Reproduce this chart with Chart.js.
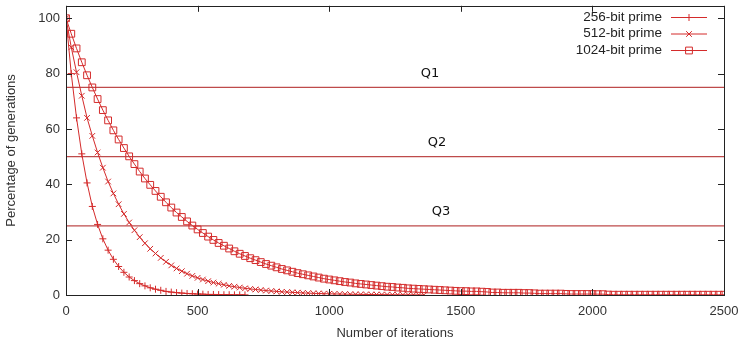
<!DOCTYPE html>
<html>
<head>
<meta charset="utf-8">
<title>Prime generation</title>
<script src="https://cdn.jsdelivr.net/npm/chart.js@4.4.0/dist/chart.umd.min.js"></script>
<style>
body{margin:0;background:#fff}
#wrap{width:740px;height:347px;position:relative}
</style>
</head>
<body>
<div id="wrap"><canvas id="primeChart"></canvas></div>
<script>
// one sample every 20 iterations
var iterStep = 20;
var seriesNames = ['256-bit prime', '512-bit prime', '1024-bit prime'];
var xTicks = [0, 500, 1000, 1500, 2000, 2500];
var yTicks = [0, 20, 40, 60, 80, 100];
var quartiles = [75, 50, 25];
var quartileNames = ['Q1', 'Q2', 'Q3'];
var quartileLabelX = [1383, 1410, 1425];

var prime256 = [100, 80, 64, 51, 40.5, 32, 25.5, 20.3, 16.2, 12.9, 10.3, 8.2, 6.5, 5.2, 4.1, 3.3, 2.6, 2.1, 1.7, 1.3,
	1.05, 0.85, 0.7, 0.55, 0.45, 0.35, 0.3, 0.2, 0.2, 0.15, 0.1, 0.1, 0.05, 0.05, 0.05];
var prime512 = [100, 89.5, 80.5, 72, 64, 57.5, 51.5, 46, 41, 36.7, 32.8, 29.3, 26.2, 23.4, 20.9, 18.7, 16.7, 15, 13.4, 12,
	10.7, 9.6, 8.6, 7.7, 6.9, 6.2, 5.6, 5, 4.5, 4.1, 3.7, 3.3, 3, 2.7, 2.4, 2.2, 2, 1.8, 1.6, 1.45,
	1.3, 1.15, 1.05, 0.95, 0.85, 0.75, 0.68, 0.6, 0.54, 0.48, 0.43, 0.38, 0.34, 0.3, 0.27, 0.24, 0.21, 0.19, 0.17, 0.15,
	0.13, 0.12, 0.1, 0.09, 0.08, 0.07, 0.06, 0.05, 0.05];
var prime1024 = [100, 94.4, 89.1, 84.1, 79.4, 75.0, 70.8, 66.8, 63.1, 59.5, 56.2, 53.1, 50.1, 47.3, 44.6, 42.1, 39.8, 37.6, 35.5, 33.5,
	31.6, 29.8, 28.2, 26.6, 25.1, 23.7, 22.4, 21.1, 19.9, 18.8, 17.8, 16.8, 15.8, 14.9, 14.1, 13.3, 12.6, 11.9, 11.2, 10.6,
	10.0, 9.4, 8.9, 8.4, 7.9, 7.5, 7.1, 6.7, 6.3, 5.9, 5.6, 5.3, 5.0, 4.7, 4.5, 4.2, 4.0, 3.8, 3.6, 3.4,
	3.2, 3.0, 2.9, 2.7, 2.6, 2.4, 2.3, 2.2, 2.1, 2.0, 1.9, 1.8, 1.7, 1.6, 1.5, 1.4, 1.4, 1.3, 1.3, 1.2,
	1.1, 0.9, 0.9, 0.8, 0.8, 0.8, 0.8, 0.7, 0.7, 0.6, 0.5, 0.5, 0.5, 0.5, 0.5, 0.4, 0.35, 0.35, 0.35, 0.35,
	0.35, 0.3, 0.3, 0.15, 0.1, 0.1, 0.1, 0.1, 0.1, 0.1, 0.1, 0.1, 0.1, 0.1, 0.1, 0.1, 0.1, 0.1, 0.1, 0.1,
	0.1, 0.1, 0.1, 0.1, 0.1, 0.1];

var curveColor = '#d42b2b';
var quartColor = 'rgb(190,75,75)';

function toPoints(arr) {
	return arr.map(function (v, i) {
		return {x: i * iterStep, y: v};
	});
}
function curve(label, data, style, radius) {
	return {
		label: label,
		data: toPoints(data),
		borderColor: curveColor,
		backgroundColor: 'rgba(0,0,0,0)',
		borderWidth: 1,
		pointStyle: style,
		pointRadius: radius,
		pointBorderWidth: 1,
		pointBorderColor: curveColor,
		pointBackgroundColor: 'rgba(0,0,0,0)',
		tension: 0
	};
}
var datasets = [
	curve(seriesNames[0], prime256, 'cross', 3.5),
	curve(seriesNames[1], prime512, 'crossRot', 4),
	curve(seriesNames[2], prime1024, 'rect', 4.8)
];
quartiles.forEach(function (q, i) {
	datasets.push({
		label: quartileNames[i],
		data: [{x: xTicks[0], y: q}, {x: xTicks[xTicks.length - 1], y: q}],
		borderColor: quartColor,
		borderWidth: 1.2,
		pointRadius: 0,
		isQuart: true
	});
});

// gnuplot style frame with inward ticks, Q labels, legend
var gnuFrame = {
	id: 'gnuFrame',
	afterDatasetsDraw: function (chart) {
		var ctx = chart.ctx, a = chart.chartArea;
		var xs = chart.scales.x, ys = chart.scales.y;
		ctx.save();
		ctx.strokeStyle = '#222';
		ctx.lineWidth = 1;
		ctx.strokeRect(Math.round(a.left) + 0.5, Math.round(a.top) + 0.5, Math.round(a.right - a.left), Math.round(a.bottom - a.top));
		ctx.beginPath();
		ys.ticks.forEach(function (t) {
			var y = Math.round(ys.getPixelForValue(t.value)) + 0.5;
			ctx.moveTo(a.left, y); ctx.lineTo(a.left + 6, y);
			ctx.moveTo(a.right, y); ctx.lineTo(a.right - 6, y);
		});
		xs.ticks.forEach(function (t) {
			var x = Math.round(xs.getPixelForValue(t.value)) + 0.5;
			ctx.moveTo(x, a.bottom); ctx.lineTo(x, a.bottom - 6);
			ctx.moveTo(x, a.top); ctx.lineTo(x, a.top + 6);
		});
		ctx.stroke();
		// quartile labels
		ctx.fillStyle = '#111';
		ctx.font = '13px "DejaVu Sans"';
		ctx.textAlign = 'center';
		ctx.textBaseline = 'middle';
		quartiles.forEach(function (q, i) {
			ctx.fillText(quartileNames[i], xs.getPixelForValue(quartileLabelX[i]), ys.getPixelForValue(q) - 14);
		});
		// legend
		ctx.font = '13.5px "Liberation Sans", Arial, sans-serif';
		ctx.textAlign = 'right';
		ctx.fillStyle = '#222';
		var rows = [17, 33.5, 50];
		chart.data.datasets.forEach(function (ds, i) {
			if (ds.isQuart) return;
			var y = rows[i];
			ctx.fillText(ds.label, 662, y);
			ctx.strokeStyle = curveColor;
			ctx.beginPath();
			ctx.moveTo(671, y + 0.5); ctx.lineTo(707, y + 0.5);
			ctx.stroke();
			ctx.fillStyle = 'rgba(0,0,0,0)';
			Chart.helpers.drawPoint(ctx, {pointStyle: ds.pointStyle, radius: ds.pointRadius, borderWidth: 1, rotation: 0}, 689, y + 0.5);
			ctx.fillStyle = '#222';
		});
		ctx.restore();
	}
};

function noPad(scale) {
	scale.paddingTop = 0;
	scale.paddingBottom = 0;
	scale.paddingLeft = 0;
	scale.paddingRight = 0;
}

Chart.defaults.font.family = '"Liberation Sans", Arial, sans-serif';
Chart.defaults.font.size = 13;
Chart.defaults.color = '#333';

new Chart(document.getElementById('primeChart'), {
	type: 'line',
	data: {datasets: datasets},
	options: {
		responsive: true,
		maintainAspectRatio: false,
		animation: false,
		layout: {padding: {top: 4, right: 16, bottom: 0, left: 0}},
		plugins: {
			legend: {display: false},
			tooltip: {enabled: false}
		},
		scales: {
			x: {
				type: 'linear',
				min: xTicks[0],
				max: xTicks[xTicks.length - 1],
				afterBuildTicks: function (scale) {
					scale.ticks = xTicks.map(function (v) { return {value: v}; });
				},
				afterFit: function (scale) { scale.height = 52; noPad(scale); },
				grid: {display: false, drawTicks: false},
				border: {display: false},
				ticks: {padding: 9, maxRotation: 0, color: '#333', callback: function (v) { return String(v); }},
				title: {display: true, text: 'Number of iterations', color: '#333', padding: {top: 0, bottom: 6}}
			},
			y: {
				type: 'linear',
				min: 0,
				max: 104.5,
				afterBuildTicks: function (scale) {
					scale.ticks = yTicks.map(function (v) { return {value: v}; });
				},
				afterFit: function (scale) { scale.width = 66; noPad(scale); },
				grid: {display: false, drawTicks: false},
				border: {display: false},
				ticks: {padding: 6, color: '#333', callback: function (v) { return String(v); }},
				title: {display: true, text: 'Percentage of generations', color: '#333', padding: {top: 4, bottom: 0}}
			}
		}
	},
	plugins: [gnuFrame]
});
</script>
</body>
</html>
